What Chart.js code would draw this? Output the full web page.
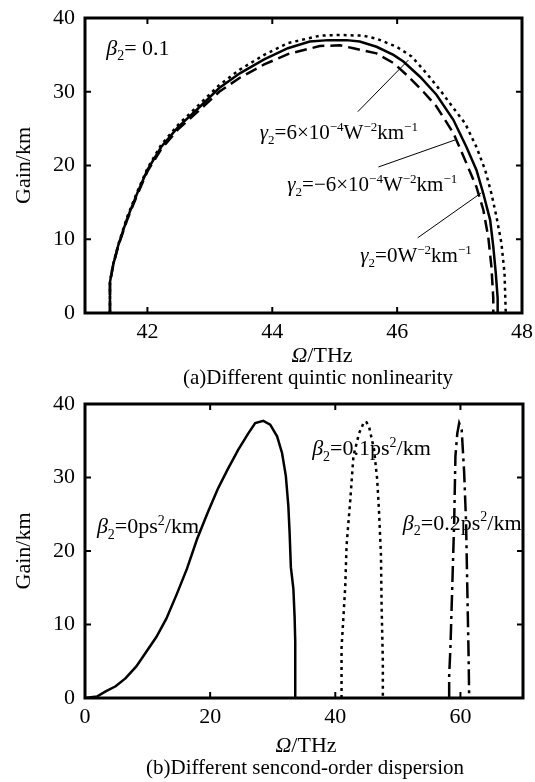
<!DOCTYPE html>
<html>
<head>
<meta charset="utf-8">
<script src="https://cdn.jsdelivr.net/npm/chart.js@4"></script>
<style>
  body { margin: 0; background: #fff; }
  canvas { display: block; }
</style>
</head>
<body>
<canvas id="chartA" width="535" height="390"></canvas>
<canvas id="chartB" width="535" height="392"></canvas>
<script>
// ---------- (a) different quintic nonlinearity, beta2 = 0.1 ----------
// gamma2 = 0 (solid)
const omegaA_g0 = [41.40, 41.40, 41.45, 41.53, 41.67, 41.84, 42.00, 42.22, 42.49, 42.82, 43.15, 43.48, 43.87, 44.25, 44.60, 44.90, 45.19, 45.40, 45.67, 45.94, 46.10, 46.37, 46.63, 46.90, 47.11, 47.27, 47.38, 47.49, 47.54, 47.58, 47.61, 47.61];
const gainA_g0  = [0, 4.2, 6.5, 9.1, 12.7, 16.3, 19.4, 22.5, 25.2, 27.8, 30.5, 32.5, 34.4, 35.9, 36.8, 37.0, 37.0, 36.8, 36.1, 35.0, 34.1, 32.0, 29.6, 26.2, 22.5, 19.4, 16.2, 12.6, 9.0, 5.4, 2.0, 0];
// gamma2 = 6e-4 (dotted)
const omegaA_gPos = [41.40, 41.40, 41.45, 41.53, 41.67, 41.84, 42.00, 42.22, 42.49, 42.82, 43.15, 43.48, 43.87, 44.25, 44.76, 45.10, 45.46, 45.67, 45.99, 46.23, 46.47, 46.69, 46.90, 47.09, 47.27, 47.41, 47.51, 47.59, 47.67, 47.72, 47.74];
const gainA_gPos  = [0, 4.3, 6.6, 9.2, 12.9, 16.5, 19.6, 22.8, 25.5, 28.2, 30.9, 33.0, 35.0, 36.6, 37.6, 37.7, 37.6, 37.2, 36.1, 34.8, 32.5, 30.2, 27.8, 25.7, 22.5, 19.4, 16.2, 13.1, 9.5, 5.4, 0];
// gamma2 = -6e-4 (dashed)
const omegaA_gNeg = [41.40, 41.40, 41.45, 41.53, 41.67, 41.84, 42.00, 42.22, 42.49, 42.82, 43.15, 43.48, 43.87, 44.25, 44.76, 45.08, 45.30, 45.67, 45.94, 46.15, 46.42, 46.63, 46.90, 47.11, 47.27, 47.38, 47.46, 47.51, 47.54, 47.54];
const gainA_gNeg  = [0, 4.1, 6.4, 9.0, 12.5, 16.1, 19.2, 22.2, 24.9, 27.4, 30.0, 31.9, 33.7, 35.1, 36.2, 36.3, 35.9, 35.2, 33.9, 32.3, 30.0, 28.0, 24.4, 20.3, 17.1, 14.0, 10.3, 6.3, 2.0, 0];

// ---------- (b) different second-order dispersion ----------
const omegaB_b0 = [0, 1.9, 3.3, 4.9, 6.5, 8.2, 9.8, 11.4, 13.0, 14.7, 16.3, 17.9, 19.6, 21.2, 22.8, 24.5, 26.1, 27.2, 28.5, 29.6, 30.7, 31.5, 32.1, 32.5, 32.7, 32.9, 33.3, 33.5, 33.6, 33.6];
const gainB_b0  = [0, 0.2, 0.9, 1.6, 2.7, 4.3, 6.3, 8.3, 10.8, 14.2, 17.6, 21.6, 25.2, 28.4, 31.1, 33.8, 36.0, 37.4, 37.7, 37.2, 35.6, 33.3, 30.2, 26.1, 22.5, 17.8, 14.9, 11.0, 7.7, 0];
const omegaB_b01 = [41.0, 41.0, 41.3, 41.6, 41.8, 42.4, 42.9, 43.8, 44.6, 45.0, 45.4, 46.2, 46.7, 47.0, 47.3, 47.4, 47.6, 47.6];
const gainB_b01  = [0, 6.8, 11.0, 15.3, 20.7, 27.0, 32.9, 36.0, 37.6, 37.5, 36.9, 33.8, 29.7, 25.2, 19.4, 12.6, 5.0, 0];
const omegaB_b02 = [58.2, 58.2, 58.4, 58.7, 59.0, 59.2, 59.5, 59.8, 60.2, 60.6, 60.9, 61.1, 61.3, 61.4];
const gainB_b02  = [0, 3.0, 6.8, 15.3, 23.9, 32.9, 36.0, 37.4, 36.5, 30.6, 23.9, 14.9, 6.0, 0];

// tick labels
const xTicksA = [42, 44, 46, 48];
const xTicksB = [0, 20, 40, 60];
const yTicks = [0, 10, 20, 30, 40];

const FONT = '"Liberation Serif", "Times New Roman", serif';

function pts(xs, ys) {
  return xs.map((x, i) => ({ x: x, y: ys[i] }));
}

// draws a label made of pieces (italic / sub / sup), left aligned, y = middle
function richText(ctx, x, yMid, parts, size) {
  let cx = x;
  const base = yMid + size * 0.33;
  ctx.textBaseline = 'alphabetic';
  ctx.textAlign = 'left';
  parts.forEach(p => {
    const s = p.s ? Math.round(size * 0.62) : size;
    const dy = p.s === 'sub' ? size * 0.25 : (p.s === 'sup' ? -size * 0.38 : 0);
    ctx.font = (p.i ? 'italic ' : '') + s + 'px ' + FONT;
    ctx.fillText(p.t, cx, base + dy);
    cx += ctx.measureText(p.t).width;
  });
  return cx - x;
}

function richWidth(ctx, parts, size) {
  let w = 0;
  parts.forEach(p => {
    const s = p.s ? Math.round(size * 0.62) : size;
    ctx.font = (p.i ? 'italic ' : '') + s + 'px ' + FONT;
    w += ctx.measureText(p.t).width;
  });
  return w;
}

const decorPlugin = {
  id: 'decor',
  afterDraw(chart, args, o) {
    const ctx = chart.ctx;
    const a = chart.chartArea;
    const xs = chart.scales.x, ys = chart.scales.y;
    ctx.save();
    ctx.strokeStyle = '#000';
    ctx.fillStyle = '#000';

    // inward ticks
    ctx.lineWidth = 2;
    ctx.beginPath();
    o.xTicks.forEach(v => {
      const px = xs.getPixelForValue(v);
      ctx.moveTo(px, a.bottom); ctx.lineTo(px, a.bottom - 6);
      ctx.moveTo(px, a.top); ctx.lineTo(px, a.top + 6);
    });
    o.yTicks.forEach(v => {
      const py = ys.getPixelForValue(v);
      ctx.moveTo(a.left, py); ctx.lineTo(a.left + 6, py);
      ctx.moveTo(a.right, py); ctx.lineTo(a.right - 6, py);
    });
    ctx.stroke();

    // frame
    ctx.lineWidth = 3;
    ctx.strokeRect(a.left, a.top, a.right - a.left, a.bottom - a.top);

    // leader lines
    ctx.lineWidth = 1;
    (o.leaders || []).forEach(l => {
      ctx.beginPath();
      ctx.moveTo(xs.getPixelForValue(l[0]), ys.getPixelForValue(l[1]));
      ctx.lineTo(xs.getPixelForValue(l[2]), ys.getPixelForValue(l[3]));
      ctx.stroke();
    });

    // in-plot labels
    (o.labels || []).forEach(l => {
      richText(ctx, xs.getPixelForValue(l.x), ys.getPixelForValue(l.y), l.parts, l.size);
    });

    // y title
    ctx.save();
    ctx.translate(o.yTitleX, (a.top + a.bottom) / 2);
    ctx.rotate(-Math.PI / 2);
    ctx.font = '22px ' + FONT;
    ctx.textAlign = 'center';
    ctx.textBaseline = 'middle';
    ctx.fillText('Gain/km', 0, 0);
    ctx.restore();

    // x title
    const xt = [{ t: 'Ω', i: 1 }, { t: '/THz' }];
    const w = richWidth(ctx, xt, 22);
    richText(ctx, o.xTitleX - w / 2, o.xTitleY, xt, 22);

    // caption
    ctx.font = '21px ' + FONT;
    ctx.textAlign = 'center';
    ctx.textBaseline = 'middle';
    ctx.fillText(o.caption, o.capX, o.capY);
    ctx.restore();
  }
};

function makeChart(id, datasets, xMin, xMax, xTicks, pad, xH, decor) {
  return new Chart(document.getElementById(id), {
    type: 'scatter',
    data: { datasets: datasets },
    options: {
      responsive: false,
      animation: false,
      layout: { padding: pad },
      plugins: { legend: { display: false }, tooltip: { enabled: false }, decor: decor },
      scales: {
        x: {
          type: 'linear', min: xMin, max: xMax,
          afterBuildTicks: s => { s.ticks = xTicks.map(v => ({ value: v })); },
          afterFit: s => { s.height = xH; s.paddingLeft = 0; s.paddingRight = 0; },
          grid: { display: false, drawTicks: false },
          border: { display: false },
          ticks: { color: '#000', padding: 6, font: { family: FONT, size: 22 } }
        },
        y: {
          type: 'linear', min: 0, max: 40,
          afterBuildTicks: s => { s.ticks = yTicks.map(v => ({ value: v })); },
          afterFit: s => { s.width = 85; s.paddingTop = 0; s.paddingBottom = 0; },
          grid: { display: false, drawTicks: false },
          border: { display: false },
          ticks: { color: '#000', padding: 10, font: { family: FONT, size: 22 } }
        }
      }
    },
    plugins: [decorPlugin]
  });
}

function line(xs, ys, dash) {
  return {
    data: pts(xs, ys), showLine: true, pointRadius: 0, borderColor: '#000',
    borderWidth: 2.5, borderDash: dash, tension: 0, fill: false
  };
}

const g2 = (val) => [{ t: 'γ', i: 1 }, { t: '2', s: 'sub' }, { t: val }];

makeChart('chartA', [
  line(omegaA_g0, gainA_g0, []),
  line(omegaA_gPos, gainA_gPos, [3, 4]),
  line(omegaA_gNeg, gainA_gNeg, [12, 6])
], 41, 48, xTicksA, { left: 0, right: 13, top: 18, bottom: 0 }, 77, {
  xTicks: xTicksA, yTicks: yTicks,
  leaders: [[45.37, 27.3, 46.18, 34.3], [45.70, 19.8, 46.94, 23.5], [46.33, 10.2, 47.35, 16.3]],
  labels: [
    { x: 41.34, y: 36.0, size: 22, parts: [{ t: 'β', i: 1 }, { t: '2', s: 'sub' }, { t: '= 0.1' }] },
    { x: 43.80, y: 24.6, size: 21, parts: g2('=6×10').concat([{ t: '−4', s: 'sup' }, { t: 'W' }, { t: '−2', s: 'sup' }, { t: 'km' }, { t: '−1', s: 'sup' }]) },
    { x: 44.24, y: 17.5, size: 21, parts: g2('=−6×10').concat([{ t: '−4', s: 'sup' }, { t: 'W' }, { t: '−2', s: 'sup' }, { t: 'km' }, { t: '−1', s: 'sup' }]) },
    { x: 45.41, y: 7.9, size: 21, parts: g2('=0W').concat([{ t: '−2', s: 'sup' }, { t: 'km' }, { t: '−1', s: 'sup' }]) }
  ],
  yTitleX: 24, xTitleX: 322, xTitleY: 355, caption: '(a)Different quintic nonlinearity', capX: 318, capY: 378
});

const b2 = (val) => [{ t: 'β', i: 1 }, { t: '2', s: 'sub' }, { t: '=' + val + 'ps' }, { t: '2', s: 'sup' }, { t: '/km' }];

makeChart('chartB', [
  line(omegaB_b0, gainB_b0, []),
  line(omegaB_b01, gainB_b01, [3, 4]),
  line(omegaB_b02, gainB_b02, [16, 5, 3, 5])
], 0, 70, xTicksB, { left: 0, right: 12, top: 14, bottom: 0 }, 84, {
  xTicks: xTicksB, yTicks: yTicks,
  labels: [
    { x: 1.9, y: 23.4, size: 22, parts: b2('0') },
    { x: 36.3, y: 34.0, size: 22, parts: b2('0.1') },
    { x: 50.8, y: 23.9, size: 22, parts: b2('0.2') }
  ],
  yTitleX: 24, xTitleX: 306, xTitleY: 355, caption: '(b)Different sencond-order dispersion', capX: 305, capY: 378
});
</script>
</body>
</html>
